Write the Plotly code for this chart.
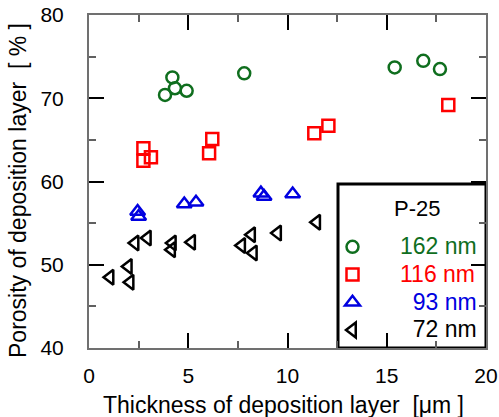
import plotly.graph_objects as go

# ---- data ----
green_x = [3.83, 4.20, 4.33, 4.92, 7.82, 15.40, 16.84, 17.68]
green_y = [70.4, 72.5, 71.2, 70.9, 73.0, 73.7, 74.5, 73.5]

red_x = [2.74, 2.74, 3.12, 6.05, 6.21, 11.35, 12.06, 18.10]
red_y = [64.0, 62.5, 62.9, 63.4, 65.1, 65.8, 66.7, 69.2]

blue_x = [2.45, 2.50, 4.80, 5.39, 8.66, 8.82, 10.26]
blue_y = [56.4, 55.8, 57.3, 57.5, 58.6, 58.2, 58.5]

black_x = [1.06, 1.98, 2.07, 2.32, 2.94, 4.16, 4.20, 5.17, 7.69, 8.19, 8.28, 9.50, 11.47]
black_y = [48.5, 49.8, 47.9, 52.6, 53.2, 51.8, 52.6, 52.7, 52.3, 53.6, 51.4, 53.8, 55.1]

legend_title = "P-25"
series_names = ["162 nm", "116 nm", "\u200793 nm", "\u200772 nm"]
x_ticks = [0, 5, 10, 15, 20]
y_ticks = [40, 50, 60, 70, 80]

GREEN = "#0f6e1e"
RED = "#ff0000"
BLUE = "#0000e0"
BLACK = "#000000"
FONT = "Liberation Sans, Arial, sans-serif"

fig = go.Figure()

def add(xs, ys, name, symbol, color, size):
    fig.add_trace(go.Scatter(
        x=xs, y=ys, mode="markers",
        name=f'<span style="color:{color};font-size:23px">{name}</span>',
        marker=dict(symbol=symbol, size=size, color=color,
                    line=dict(color=color, width=2.5)),
    ))

add(green_x, green_y, series_names[0], "circle-open", GREEN, 12)
add(red_x, red_y, series_names[1], "square-open", RED, 12)
add(blue_x, blue_y, series_names[2], "triangle-up-open", BLUE, 13)
add(black_x, black_y, series_names[3], "triangle-left-open", BLACK, 13)

axis_common = dict(
    showgrid=False, zeroline=False, showline=True, linecolor="#707070", linewidth=2,
    mirror="ticks", ticks="inside", ticklen=15, tickwidth=1.5, tickcolor="#000000",
    tickfont=dict(family=FONT, size=21, color="#000000"), ticklabeloverflow="allow",
)

fig.update_xaxes(range=[0, 20], tickvals=x_ticks, ticklabelstandoff=8,
                 minor=dict(ticks="inside", ticklen=7, dtick=2.5, tickcolor="#606060", tickwidth=1.5),
                 **axis_common)
fig.update_yaxes(range=[40, 80], tickvals=y_ticks, ticklabelstandoff=19,
                 minor=dict(ticks="inside", ticklen=7, dtick=5, tickcolor="#606060", tickwidth=1.5),
                 **axis_common)

# body margin is removed by post_script below, so page pixels == figure pixels
PL, PR, PT, PB = 89, 486, 15, 348          # plot area in page pixels
W, H = 499, 417
L, T = PL, PT
R = W - PR
B = H - PB
pw, ph = PR - PL, PB - PT

def px_x(p):
    return (p - PL) / pw

def px_y(p):
    return (PB - p) / ph

# legend box (drawn below ticks like the reference)
fig.add_shape(type="rect", xref="paper", yref="paper",
              x0=px_x(338), x1=1.0, y0=0.0, y1=px_y(184),
              line=dict(color="black", width=3), fillcolor="white", layer="below")

fig.add_annotation(text=legend_title, xref="paper", yref="paper",
                   x=px_x(416.7), y=px_y(208.5), showarrow=False,
                   xanchor="center", yanchor="middle",
                   font=dict(family=FONT, size=22, color="black"))

fig.add_annotation(text="Thickness of deposition layer\u00a0\u00a0[\u03bcm ]",
                   xref="paper", yref="paper", x=px_x(283), y=px_y(405),
                   showarrow=False, xanchor="center", yanchor="middle",
                   font=dict(family=FONT, size=23, color="black"))
fig.add_annotation(text="Porosity of deposition layer\u00a0\u00a0[ % ]",
                   xref="paper", yref="paper", x=px_x(18.5), y=px_y(190.5),
                   showarrow=False, xanchor="center", yanchor="middle", textangle=-90,
                   font=dict(family=FONT, size=23, color="black"))

fig.update_layout(
    width=W, height=H,
    margin=dict(l=L, r=R, t=T, b=B, autoexpand=False),
    paper_bgcolor="white", plot_bgcolor="white",
    font=dict(family=FONT, size=19, color="black"),
    legend=dict(
        x=px_x(305), y=px_y(228), xanchor="left", yanchor="top",
        bgcolor="rgba(0,0,0,0)", borderwidth=0,
        itemwidth=85, tracegroupgap=0,
        font=dict(family=FONT, size=19),
    ),
    showlegend=True,
)

fig.write_html("out.html", config={"displayModeBar": False},
               post_script="document.body.style.margin='0px';")
